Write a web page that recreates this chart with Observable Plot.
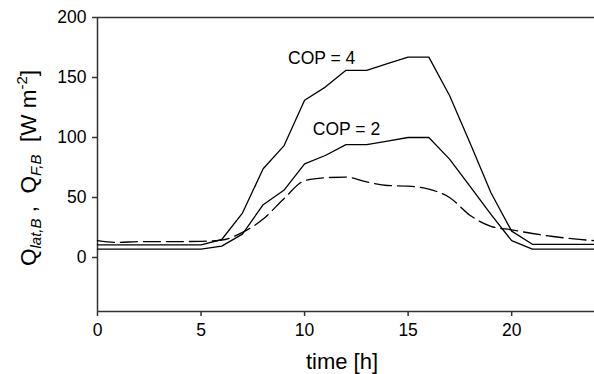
<!DOCTYPE html>
<html>
<head>
<meta charset="utf-8">
<script src="https://cdn.jsdelivr.net/npm/d3@7"></script>
<script src="https://cdn.jsdelivr.net/npm/@observablehq/plot@0.6"></script>
<style>
  html, body { margin: 0; padding: 0; background: #fff; }
  #chart svg { display: block; font-family: "Liberation Sans", Arial, sans-serif; }
</style>
</head>
<body>
<div id="chart"></div>
<script>
const hours = [0,1,2,3,4,5,6,7,8,9,10,11,12,13,14,15,16,17,18,19,20,21,22,23,24];
const cop4  = [10.5,10.5,10.5,10.5,10.5,10.5,15,37,74,93,131,142,156,156,161.5,167,167,135,95,54,22,11,11,11,11];
const cop2  = [7,7,7,7,7,7,9.5,19.5,44,56,78,85,94,94,97,100,100,82,59,36,14,7,7,7,7];
const qlat  = [14,12.5,13.3,13.3,13.3,13.5,14.5,21,32,49,64,66.5,67,63,60,59.5,57,50,35,26,23,20,17.5,15.5,14];
const xTicks = [0,5,10,15,20];
const yTicks = [0,50,100,150,200];
const labels = [
  {x: 9.2, y: 166, text: "COP = 4"},
  {x: 10.4, y: 107, text: "COP = 2"}
];

const rows = (vals) => hours.map((h, i) => ({h, v: vals[i]}));

const axisColor = "#333";
const plot = Plot.plot({
  width: 594,
  height: 374,
  marginLeft: 97,
  marginRight: 0,
  marginTop: 17,
  marginBottom: 63,
  style: {fontFamily: "Liberation Sans, Arial, sans-serif", fontSize: "17px", color: "#000", background: "#fff"},
  x: {domain: [0, 24]},
  y: {domain: [-45, 200]},
  marks: [
    Plot.axisX({ticks: xTicks, tickSize: 5, tickPadding: 7, label: null, fontSize: 17.5, stroke: axisColor, strokeWidth: 1.5}),
    Plot.axisY({ticks: yTicks, tickSize: 5, tickPadding: 6, label: null, fontSize: 17.5, stroke: axisColor, strokeWidth: 1.5}),
    Plot.ruleY([200], {stroke: axisColor, strokeWidth: 1.5}),
    Plot.ruleY([-45], {stroke: axisColor, strokeWidth: 1.5}),
    Plot.ruleX([0], {stroke: axisColor, strokeWidth: 1.5}),
    Plot.line(rows(qlat), {x: "h", y: "v", stroke: "#000", strokeWidth: 1.3, strokeDasharray: "17,6", curve: "monotone-x"}),
    Plot.line(rows(cop2), {x: "h", y: "v", stroke: "#000", strokeWidth: 1.3}),
    Plot.line(rows(cop4), {x: "h", y: "v", stroke: "#000", strokeWidth: 1.3}),
    Plot.text(labels, {x: "x", y: "y", text: "text", textAnchor: "start", fontSize: 17.5, fill: "#000"})
  ]
});

const svg = d3.select(plot);
// x axis title
svg.append("text")
  .attr("x", 342).attr("y", 369)
  .attr("text-anchor", "middle")
  .attr("font-size", 22)
  .attr("fill", "#000")
  .text("time [h]");

// y axis title with subscripts/superscript
const yl = svg.append("text")
  .attr("transform", "translate(36,168) rotate(-90)")
  .attr("text-anchor", "middle")
  .attr("font-size", 22.5)
  .attr("fill", "#000");
yl.append("tspan").text("Q");
yl.append("tspan").attr("font-size", 15).attr("font-style", "italic").attr("dy", 5).text("lat,B");
yl.append("tspan").attr("dy", -5).text(" ,  Q");
yl.append("tspan").attr("font-size", 15).attr("font-style", "italic").attr("dy", 5).text("F,B");
yl.append("tspan").attr("dy", -5).text("  [W m");
yl.append("tspan").attr("font-size", 15).attr("dy", -9).text("-2");
yl.append("tspan").attr("dy", 9).text("]");

document.getElementById("chart").appendChild(plot);
</script>
</body>
</html>
